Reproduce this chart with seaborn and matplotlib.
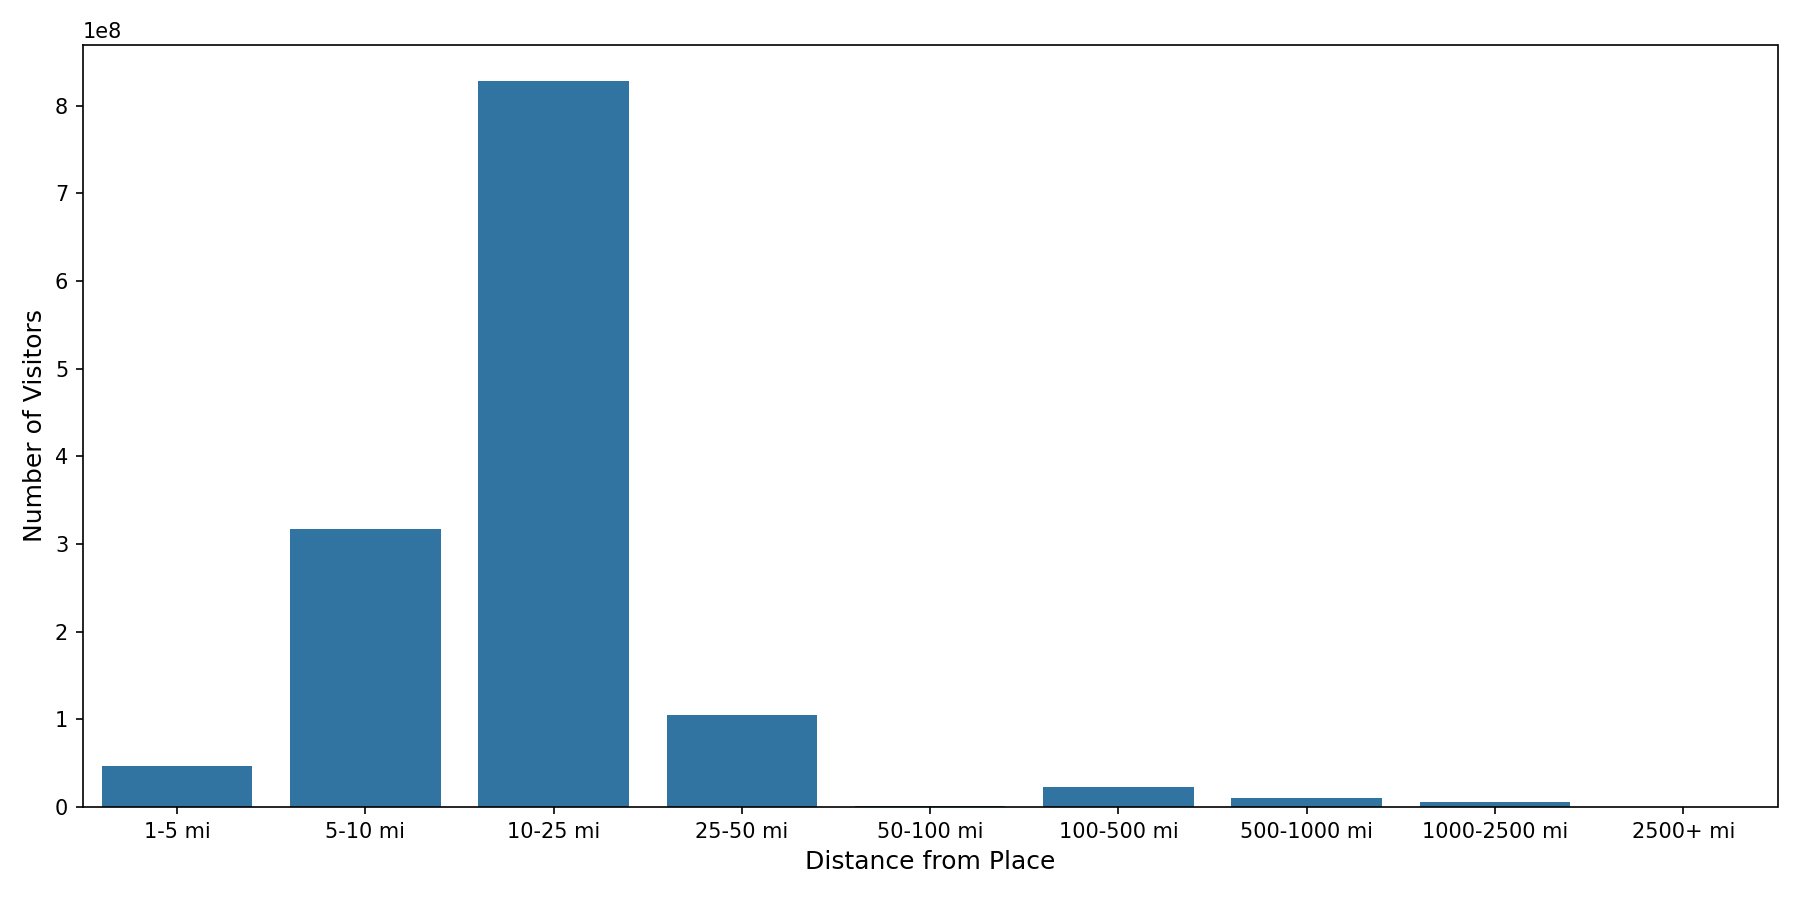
import pandas as pd
import matplotlib
matplotlib.use("Agg")
import matplotlib.pyplot as plt
import seaborn as sns

# distance buckets and visitor counts
distance_bins = ["1-5 mi", "5-10 mi", "10-25 mi", "25-50 mi", "50-100 mi",
                 "100-500 mi", "500-1000 mi", "1000-2500 mi", "2500+ mi"]
visitors = [4.64e7, 3.174e8, 8.28e8, 1.046e8, 8e5, 2.24e7, 1.0e7, 5.3e6, 5e5]

df = pd.DataFrame({"distance": distance_bins, "visitors": visitors})

fig, ax = plt.subplots(figsize=(12, 6), dpi=150)
sns.barplot(data=df, x="distance", y="visitors", ax=ax)
ax.set_xlabel("Distance from Place", fontsize=12)
ax.set_ylabel("Number of Visitors", fontsize=12)
plt.tight_layout()
# nudge the bottom edge up a touch to line up with the reference
fig.subplots_adjust(bottom=fig.subplotpars.bottom + 0.004)
plt.savefig("out.png")
